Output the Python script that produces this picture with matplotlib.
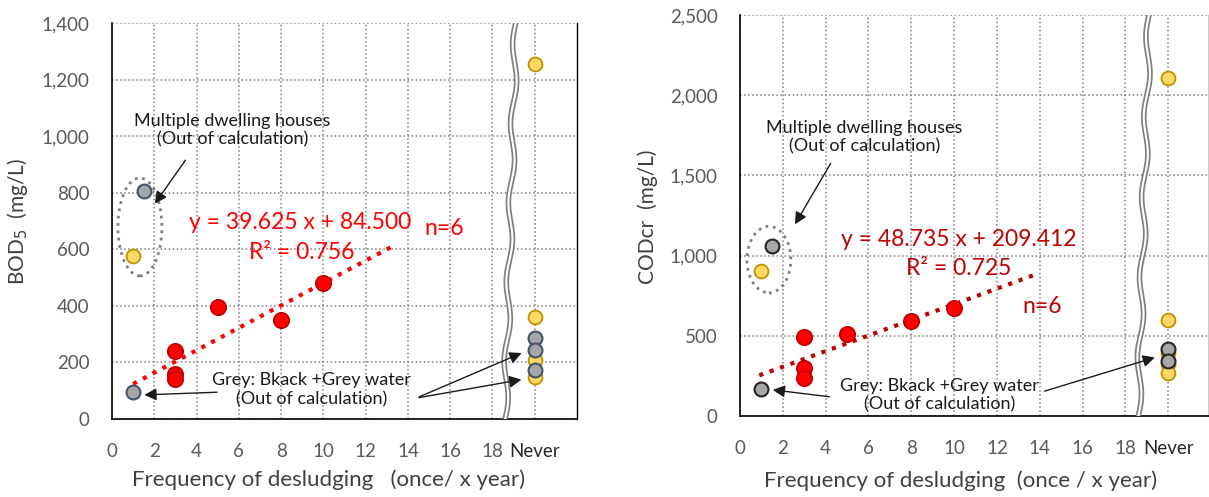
import numpy as np
import matplotlib.pyplot as plt
from matplotlib.patches import Ellipse

plt.rcParams['font.family'] = ['Lato', 'DejaVu Sans']

# x positions: 20 stands for "Never"
tick_pos = [0, 2, 4, 6, 8, 10, 12, 14, 16, 18, 20]
tick_lab = ['0', '2', '4', '6', '8', '10', '12', '14', '16', '18', 'Never']

# BOD5 panel
bod_red_x = [3, 3, 3, 5, 8, 10]
bod_red_y = [240, 160, 140, 395, 350, 480]
bod_grey_x = [1, 1.5, 20, 20, 20]
bod_grey_y = [95, 805, 285, 245, 175]
bod_yel_x = [1, 20, 20, 20, 20]
bod_yel_y = [575, 1255, 360, 210, 150]
bod_slope, bod_icpt = 39.625, 84.5
bod_fit_x = [1, 13.3]

# CODcr panel
cod_red_x = [3, 3, 3, 5, 8, 10]
cod_red_y = [490, 300, 235, 510, 595, 675]
cod_grey_x = [1, 1.5, 20, 20]
cod_grey_y = [170, 1060, 415, 340]
cod_yel_x = [1, 20, 20, 20, 20, 20]
cod_yel_y = [905, 2110, 598, 395, 325, 265]
cod_slope, cod_icpt = 48.735, 209.412
cod_fit_x = [0.9, 13.8]

fig = plt.figure(figsize=(12.09, 4.97), dpi=100)
W, H = 1209, 497
ax1 = fig.add_axes([112/W, 1-419/H, (577-112)/W, (419-23)/H])
ax2 = fig.add_axes([740/W, 1-416/H, (1209-740)/W, (416-15)/H])

yel = dict(marker='o', ms=10, mfc='#FFD966', mec='#BF9000', mew=1.3, ls='none', zorder=4)
red = dict(marker='o', ms=11, mfc='#FF0000', mec='#C00000', mew=1.3, ls='none', zorder=4)
arr = dict(arrowstyle='-|>', color='#1a1a1a', lw=1, mutation_scale=18)


def base(ax, ymax, ystep, ylab, xmax):
    ax.set_xlim(0, xmax)
    ax.set_ylim(0, ymax)
    ax.set_xticks(tick_pos)
    ax.set_xticklabels(tick_lab)
    ax.set_yticks(np.arange(0, ymax + 1, ystep))
    ax.set_yticklabels([f'{v:,}' for v in np.arange(0, ymax + 1, ystep)])
    ax.tick_params(length=0, labelsize=13.5, colors='#595959')
    ax.tick_params(axis='x', pad=17)
    ax.tick_params(axis='y', pad=16)
    ax.get_xticklabels()[-1].set_color('#262626')
    ax.grid(True, ls=':', color='#7f7f7f', lw=1.1)
    ax.set_axisbelow(True)
    ax.spines['top'].set_visible(False)
    ax.spines['right'].set_linewidth(1.0)
    for s in ['left', 'bottom']:
        ax.spines[s].set_linewidth(1.2)
    ax.set_ylabel(ylab, fontsize=15, color='#404040')
    # wavy break line
    yy = np.linspace(0, ymax, 200)
    xx = 18.6 + 0.5 * yy / ymax + 0.12 * np.sin(yy / ymax * 2 * np.pi * 5)
    ax.plot(xx, yy, color='#7f7f7f', lw=4, zorder=3)
    ax.plot(xx, yy, color='white', lw=1.5, zorder=3)


base(ax1, 1400, 200, 'BOD$_5$  (mg/L)', 22)
ax1.yaxis.set_label_coords(-0.176, 0.5)
ax1.set_xlabel('Frequency of desludging   (once/ x year)', fontsize=16, color='#404040')
ax1.xaxis.set_label_coords(0.465, -0.128)
fx = np.array(bod_fit_x)
ax1.plot(fx, bod_slope * fx + bod_icpt, ls=':', color='#FF0000', lw=3, zorder=3)
ax1.plot(bod_yel_x, bod_yel_y, **yel)
ax1.plot(bod_grey_x, bod_grey_y, marker='o', ms=10, mfc='#A6A6A6', mec='#44546A', mew=1.5, ls='none', zorder=5)
ax1.plot(bod_red_x, bod_red_y, **red)
ax1.add_patch(Ellipse((1.32, 679), 2.08, 346, fill=False, ls=':', lw=2, ec='#7f7f7f', zorder=3))
ax1.text(5.7, 1020, 'Multiple dwelling houses\n(Out of calculation)', ha='center', va='center',
         fontsize=13, color='#1a1a1a', linespacing=1.2)
ax1.annotate('', xy=(1.95, 753), xytext=(3.55, 923), arrowprops=arr)
ax1.text(8.9, 696, 'y = 39.625 x + 84.500', ha='center', va='center', fontsize=16.5, color='#FF0000')
ax1.text(9.0, 590, 'R² = 0.756', ha='center', va='center', fontsize=16.5, color='#FF0000')
ax1.text(15.7, 675, 'n=6', ha='center', va='center', fontsize=16.5, color='#FF0000')
ax1.text(9.45, 104, 'Grey: Bkack +Grey water\n(Out of calculation)', ha='center', va='center',
         fontsize=13, color='#1a1a1a', linespacing=1.2)
ax1.annotate('', xy=(1.4, 85), xytext=(5.1, 95), arrowprops=arr)
ax1.annotate('', xy=(19.5, 237), xytext=(14.4, 74), arrowprops=arr)
ax1.annotate('', xy=(19.5, 141), xytext=(14.4, 74), arrowprops=arr)

base(ax2, 2500, 500, 'CODcr  (mg/L)', 21.9)
ax2.yaxis.set_label_coords(-0.174, 0.496)
ax2.set_xlabel('Frequency of desludging  (once / x year)', fontsize=16, color='#404040')
ax2.xaxis.set_label_coords(0.47, -0.135)
fx = np.array(cod_fit_x)
ax2.plot(fx, cod_slope * fx + cod_icpt, ls=':', color='#C00000', lw=3, zorder=3)
ax2.plot(cod_yel_x, cod_yel_y, **yel)
ax2.plot(cod_grey_x, cod_grey_y, marker='o', ms=10, mfc='#A6A6A6', mec='#262626', mew=1.5, ls='none', zorder=5)
ax2.plot(cod_red_x, cod_red_y, **red)
ax2.add_patch(Ellipse((1.35, 975), 2.05, 415, fill=False, ls=':', lw=2, ec='#7f7f7f', zorder=3))
ax2.text(5.8, 1736, 'Multiple dwelling houses\n(Out of calculation)', ha='center', va='center',
         fontsize=13, color='#1a1a1a', linespacing=1.2)
ax2.annotate('', xy=(2.5, 1180), xytext=(4.3, 1590), arrowprops=arr)
ax2.text(10.2, 1103, 'y = 48.735 x + 209.412', ha='center', va='center', fontsize=16.5, color='#C00000')
ax2.text(10.2, 922, 'R² = 0.725', ha='center', va='center', fontsize=16.5, color='#C00000')
ax2.text(14.1, 680, 'n=6', ha='center', va='center', fontsize=16.5, color='#C00000')
ax2.text(9.3, 130, 'Grey: Bkack +Grey water\n(Out of calculation)', ha='center', va='center',
         fontsize=13, color='#1a1a1a', linespacing=1.2)
ax2.annotate('', xy=(1.4, 165), xytext=(4.3, 118), arrowprops=arr)
ax2.annotate('', xy=(19.5, 370), xytext=(14.1, 150), arrowprops=arr)

fig.savefig('out.png', dpi=100)
